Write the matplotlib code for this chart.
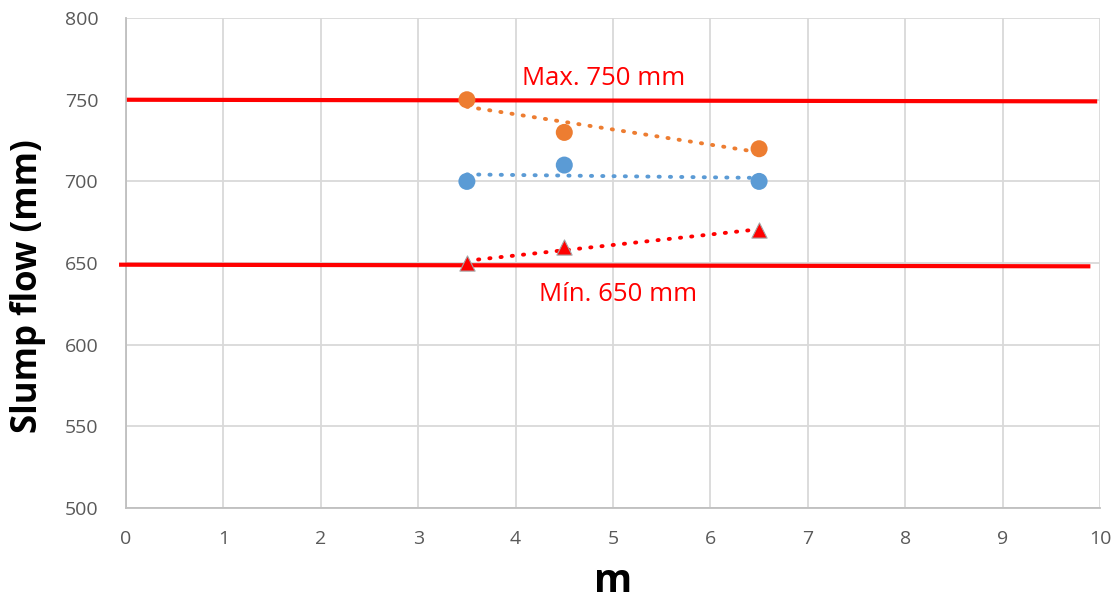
import matplotlib
matplotlib.use("Agg")
import matplotlib.pyplot as plt
import numpy as np

plt.rcParams['font.family'] = ['Open Sans', 'DejaVu Sans']

x_vals = [3.5, 4.5, 6.5]
orange_vals = [750, 730, 720]
blue_vals = [700, 710, 700]
red_vals = [650, 660, 670]

max_line_x = [0.03, 9.95]
max_line_y = [750, 749]
min_line_x = [-0.05, 9.88]
min_line_y = [649, 648]

x_ticks = list(range(0, 11))
y_ticks = [500, 550, 600, 650, 700, 750, 800]

fig = plt.figure(figsize=(11.19, 6.03), dpi=100)
ax = fig.add_axes([0.1126, 0.1575, 0.8704, 0.8125])
ax.set_xlim(0, 10)
ax.set_ylim(500, 800)
ax.set_xticks(x_ticks)
ax.set_yticks(y_ticks)
ax.grid(True, color='#D9D9D9', linewidth=1.3)
ax.set_axisbelow(True)
for s in ['top', 'right']:
    ax.spines[s].set_visible(False)
for s in ['left', 'bottom']:
    ax.spines[s].set_color('#BFBFBF')
    ax.spines[s].set_linewidth(1.3)
ax.tick_params(length=0, labelsize=14, labelcolor='#595959')
ax.tick_params(axis='y', pad=20)
ax.tick_params(axis='x', pad=16)

# limit lines
ax.plot(max_line_x, max_line_y, color='#FF0000', linewidth=3, clip_on=False, zorder=3)
ax.plot(min_line_x, min_line_y, color='#FF0000', linewidth=3, clip_on=False, zorder=3)

xs = np.array(x_vals, dtype=float)
def trend(yv, color):
    k, b = np.polyfit(xs, np.array(yv, dtype=float), 1)
    xt = np.array([xs.min(), xs.max()])
    ax.plot(xt, k * xt + b, color=color, linestyle=(0, (0.3, 2.6)), linewidth=2.8,
            dash_capstyle='round', zorder=4)

trend(orange_vals, '#ED7D31')
trend(blue_vals, '#5B9BD5')
trend(red_vals, '#FF0000')

ax.scatter(x_vals, orange_vals, s=150, color='#ED7D31', zorder=5, edgecolors='none')
ax.scatter(x_vals, blue_vals, s=150, color='#5B9BD5', zorder=5, edgecolors='none')
ax.scatter(x_vals, red_vals, s=120, marker='^', color='#FF0000', zorder=5,
           edgecolors='#A5A5A5', linewidths=0.8)

ax.text(4.9, 763, 'Max. 750 mm', color='#FF0000', fontsize=18.5, ha='center', va='center')
ax.text(5.05, 631, 'Mín. 650 mm', color='#FF0000', fontsize=18.5, ha='center', va='center')

fig.text(613 / 1119, 1 - 582 / 603, 'm', fontsize=28, fontweight='bold',
         ha='center', va='center')
fig.text(28 / 1119, 1 - 286 / 603, 'Slump flow (mm)', fontsize=25, fontweight='bold',
         ha='center', va='center', rotation=90)

fig.savefig('out.png', dpi=100)
